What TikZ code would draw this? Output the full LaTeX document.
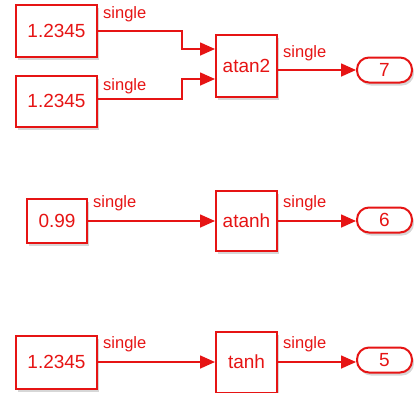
\documentclass[tikz,border=0pt]{standalone}
\usepackage{fontspec}
\setmainfont{Liberation Sans}
\usetikzlibrary{arrows.meta,calc,positioning,shadows}
\definecolor{simred}{RGB}{230,20,20}

\begin{document}
\begin{tikzpicture}[x=1pt,y=-1pt,
  blk/.style={draw=simred,line width=2pt,fill=white,text=simred,inner sep=0pt,
    font=\fontsize{19}{19}\selectfont,
    drop shadow={shadow xshift=2pt,shadow yshift=-3pt,opacity=0.35,fill=black!45}},
  outp/.style={blk,rounded corners=12pt,minimum width=55pt,minimum height=25pt},
  sig/.style={draw=simred,line width=1.6pt,-{Triangle[length=15pt,width=13pt]}},
  lbl/.style={text=simred,inner sep=0pt,anchor=base west,font=\fontsize{16.5}{16.5}\selectfont}]
\useasboundingbox (0,0) rectangle (414,392);
% atan2 row
\node[blk,minimum width=81pt,minimum height=52pt] (c1) at (56.5,31) {1.2345};
\node[blk,minimum width=81pt,minimum height=51pt] (c2) at (56.5,101) {1.2345};
\node[blk,minimum width=61pt,minimum height=62pt] (at2) at (246.5,66) {atan2};
\node[outp] (o7) at (384.5,70) {7};
\coordinate (at2a) at ([yshift=17pt]at2.west);
\coordinate (at2b) at ([yshift=-13pt]at2.west);
\coordinate (at2o) at ([yshift=-4pt]at2.east);
\draw[sig] (c1.east) -| (182,49) -- (at2a);
\draw[sig] ([yshift=2pt]c2.east) -| (182,79) -- (at2b);
\draw[sig] (at2o) -- (at2o-|o7.west);
\node[lbl] at ($(c1.east)+(5,-13)$) {single};
\node[lbl] at ($(c2.east)+(5,-11)$) {single};
\node[lbl] at ($(at2o)+(5,-13)$) {single};
% atanh row
\node[blk,minimum width=60pt,minimum height=44pt] (c3) at (57,221) {0.99};
\node[blk,minimum width=61pt,minimum height=60pt] (ath) at (246.5,221) {atanh};
\node[outp] (o6) at (384.5,220) {6};
% tanh row
\node[blk,minimum width=81pt,minimum height=53pt] (c4) at (56.5,362) {1.2345};
\node[blk,minimum width=61pt,minimum height=61pt] (th) at (246.5,362) {tanh};
\node[outp] (o5) at (384.5,360) {5};
\foreach \src/\fn/\dst in {c3/ath/o6,c4/th/o5}{
  \draw[sig] (\src.east) -- (\fn.west);
  \draw[sig] (\fn.east) -- (\fn.east-|\dst.west);
  \node[lbl] at ($(\src.east)+(5,-14)$) {single};
  \node[lbl] at ($(\fn.east)+(5,-14)$) {single};
}
\end{tikzpicture}
\end{document}
